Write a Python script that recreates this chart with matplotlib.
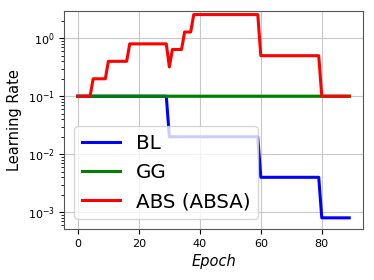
import numpy as np
import matplotlib
matplotlib.use('Agg')
import matplotlib.pyplot as plt

# epochs and learning rate schedules
epochs = np.arange(90)

bl_levels = [0.1, 0.02, 0.004, 0.0008]
bl_starts = [0, 30, 60, 80]

gg_value = 0.1

abs_levels = [0.1, 0.2, 0.4, 0.8, 0.32, 0.64, 1.28, 2.56, 0.5, 0.1]
abs_starts = [0, 5, 10, 17, 30, 31, 35, 38, 60, 80]


def steps(starts, levels, n):
    out = np.zeros(n)
    for s, v in zip(starts, levels):
        out[s:] = v
    return out


bl = steps(bl_starts, bl_levels, len(epochs))
gg = np.full(len(epochs), gg_value)
absa = steps(abs_starts, abs_levels, len(epochs))

fig, ax = plt.subplots(figsize=(3.74, 2.80), dpi=100)
fig.subplots_adjust(left=0.172, right=0.97, top=0.962, bottom=0.182)

ax.plot(epochs, bl, color='blue', lw=2.2, label='BL')
ax.plot(epochs, gg, color='green', lw=2.3, label='GG', snap=False)
ax.plot(epochs, absa, color='red', lw=2.2, label='ABS (ABSA)')

ax.set_yscale('log')
ax.set_ylim(10 ** -3.29, 10 ** 0.476)
ax.set_xticks([0, 20, 40, 60, 80])
ax.grid(True, color='#c8c8c8', lw=0.8)
ax.tick_params(labelsize=8)
for sp in ax.spines.values():
    sp.set_color('#555555')

ax.set_xlabel('Epoch', fontsize=10.5, fontstyle='italic')
ax.set_ylabel('Learning Rate', fontsize=10.5)
leg = ax.legend(loc='lower left', fontsize=14.3, handlelength=1.9)
for line in leg.get_lines():
    line.set_linewidth(2.2)

fig.savefig('out.png', dpi=100)
